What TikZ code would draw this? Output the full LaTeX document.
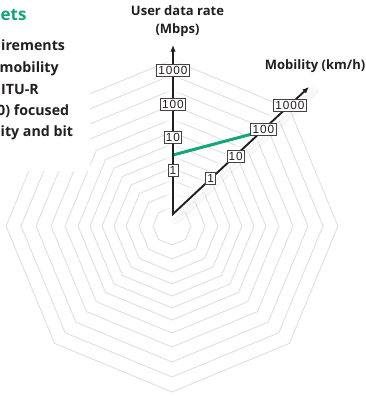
\documentclass[tikz,border=0pt]{standalone}
\usepackage{fontspec}
\setmainfont{Open Sans}
\newfontfamily\tickfont{Liberation Sans}[LetterSpace=8]
\usetikzlibrary{arrows.meta,calc}

\definecolor{ink}{HTML}{231F20}
\definecolor{ringgray}{HTML}{E0E0E0}
\definecolor{tealgreen}{HTML}{12A679}

\pgfdeclarelayer{back}
\pgfdeclarelayer{mid}
\pgfsetlayers{back,mid,main}

\tikzset{
  ring/.style={draw=ringgray, line width=0.9pt, line join=miter},
  axisline/.style={draw=ink, line width=1.9pt, line join=miter,
    {Latex[length=6.5pt,width=5.5pt]}-{Latex[length=6.5pt,width=5.5pt]}},
  tickbox/.style={draw=ink!85, line width=0.7pt, fill=white, inner xsep=1.8pt,
    inner ysep=0pt, minimum height=12pt, text=ink,
    font=\tickfont\fontsize{11.8}{12}\selectfont},
  axislabel/.style={inner sep=0pt, text=ink, font=\bfseries\fontsize{13}{15}\selectfont},
  bodytext/.style={inner sep=0pt, text=ink, font=\bfseries\fontsize{14.2}{16}\selectfont},
  headtext/.style={inner sep=0pt, text=tealgreen, font=\bfseries\fontsize{17}{19}\selectfont},
  rateline/.style={draw=tealgreen, line width=3pt},
}

\begin{document}
\begin{tikzpicture}[x=1pt, y=-1pt]
\useasboundingbox (0,0) rectangle (366,397);
\clip (0,0) rectangle (366,397);

% axis end points
\coordinate (o) at (173,214);
\coordinate (vt) at (173,45);
\coordinate (dt) at (309,87);

\begin{pgfonlayer}{back}
\fill[white] (0,0) rectangle (366,397);
% concentric octagonal grid
\begin{scope}[shift={(172,226)}]
  \foreach \r in {19,33,46,58,70,82,94,107,121,136,151,166}
    \draw[ring] (0:\r) \foreach \a in {45,90,...,315} { -- (\a:\r) } -- cycle;
\end{scope}
% white panel behind the text column
\fill[white] (0,0) rectangle (90,171);
% soft shadow and white glow along the axes
\draw[black, opacity=0.03, line width=12pt, line cap=round]
  ($(o)+(3,4)$) -- ($(dt)+(3,4)$);
\draw[black, opacity=0.04, line width=6pt, line cap=round]
  ($(o)+(2,3)$) -- ($(dt)+(2,3)$);
\draw[white, opacity=0.5, line width=16pt, line cap=round, line join=round]
  (vt) -- (o) -- (dt);
\draw[white, opacity=0.85, line width=8pt, line cap=round, line join=round]
  (vt) -- (o) -- (dt);
\end{pgfonlayer}

% axes
\draw[axisline] (vt) -- (o) -- (dt);

% tick boxes, user data rate
\node[tickbox] (v1) at (173,170) {1};
\node[tickbox] (v10) at (173,137.5) {10};
\node[tickbox] (v100) at (173,104) {100};
\node[tickbox] (v1000) at (173,70) {1000};

% tick boxes, mobility
\node[tickbox] (d1) at (210.7,178.5) {1};
\node[tickbox] (d10) at (235.7,156.5) {10};
\node[tickbox] (d100) at (263.3,129.3) {100};
\node[tickbox] (d1000) at (290,105.7) {1000};

% requirement line between the axes
\coordinate (g0) at (173,155);
\coordinate (g1) at ($(d100.south west)+(0,-1.2)$);
\begin{pgfonlayer}{mid}
\draw[rateline] (g0) -- (g1);
\end{pgfonlayer}

% axis titles
\node[axislabel, anchor=base] (ylab1) at (177.5,15) {User data rate};
\node[axislabel, anchor=base] (ylab2) at (177.5,33) {(Mbps)};
\node[axislabel, anchor=base east] (xlab) at (365.5,69) {Mobility (km/h)};

% text column
\node[headtext, anchor=base west] (head) at (0.5,20) {ets};
\node[bodytext, anchor=base west] (t1) at (1,50) {irements};
\node[bodytext, anchor=base west] (t2) at (-0.5,72) {mobility};
\node[bodytext, anchor=base west] (t3) at (1,94) {ITU-R};
\node[bodytext, anchor=base west] (t4) at (-3,115) {0) focused};
\node[bodytext, anchor=base west] (t5) at (0.5,136) {ity and bit};
\end{tikzpicture}
\end{document}
